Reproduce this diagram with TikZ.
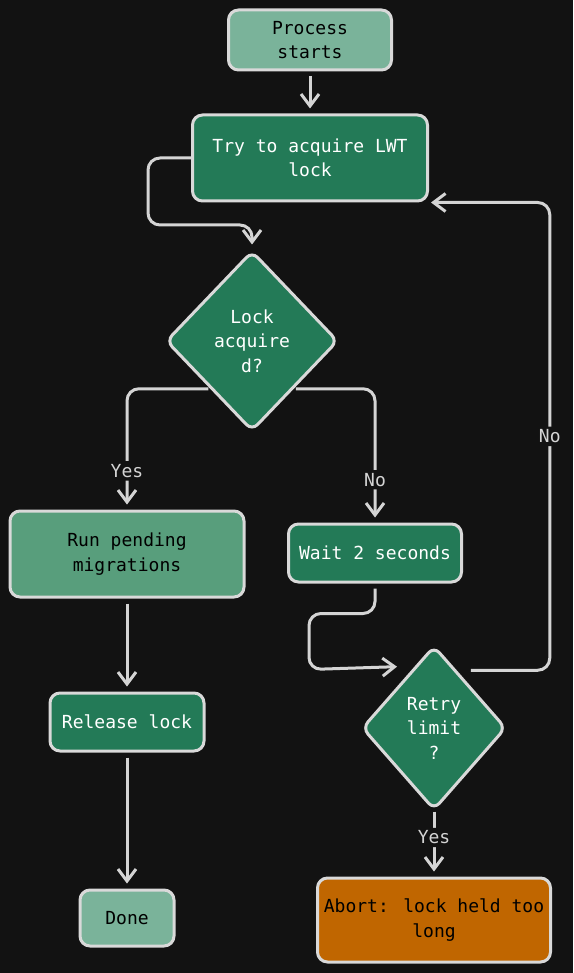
\documentclass[tikz,border=0pt]{standalone}
\usepackage{fontspec}
\setmainfont{DejaVu Sans Mono}
\usetikzlibrary{shapes.geometric,arrows.meta,calc}
\definecolor{bg}{HTML}{121212}
\definecolor{edge}{HTML}{D9D9D9}
\definecolor{wire}{HTML}{D4D4D4}
\definecolor{dgreen}{HTML}{237A57}
\definecolor{lgreen}{HTML}{7AB39A}
\definecolor{mgreen}{HTML}{589E7C}
\definecolor{abortc}{HTML}{C06600}
\begin{document}
\begin{tikzpicture}[x=1pt, y=-1pt, line width=3pt, font=\fontsize{18}{24.5}\selectfont,
  >={Straight Barb[length=12pt,width=18pt]},
  box/.style={draw=edge, rounded corners=10pt, align=center, inner sep=0pt},
  dark/.style={box, fill=dgreen, text=white},
  light/.style={box, fill=lgreen, text=black},
  decide/.style={diamond, draw=edge, fill=dgreen, text=white, align=center, inner sep=0pt, rounded corners=8pt},
  arr/.style={->, draw=wire, rounded corners=12pt, shorten >=5pt},
  lbl/.style={fill=bg, text=wire, inner sep=3pt}]
  \fill[bg] (0,0) rectangle (573,973);
  \useasboundingbox (0,0) rectangle (573,973);
  % nodes
  \node[light, minimum width=163, minimum height=60] (start) at (310,40) {Process\\starts};
  \node[dark, minimum width=235, minimum height=86] (try) at (310,158) {Try to acquire LWT\\lock};
  \node[decide, minimum width=172, minimum height=180] (lock) at (252,341) {Lock\\acquire\\d?};
  \node[light, fill=mgreen, minimum width=234, minimum height=86] (run) at (127,554) {Run pending\\migrations};
  \node[dark, minimum width=173, minimum height=58] (wait) at (375,553) {Wait 2 seconds};
  \node[dark, minimum width=154, minimum height=58] (release) at (127,722) {Release lock};
  \node[light, minimum width=94, minimum height=56] (done) at (127,918) {Done};
  \node[decide, minimum width=144, minimum height=164] (retry) at (434,728) {Retry\\limit\\?};
  \node[light, fill=abortc, minimum width=233, minimum height=84] (abort) at (434,920) {Abort: lock held too\\long};
  % connectors
  \draw[arr, shorten <=5pt] (start) -- (try);
  \draw[arr] (try.west) -- ++(-43,0) -- ++(0,67) -| (lock.north);
  \draw[arr] ([yshift=-2pt]lock.south west) -| node[pos=0.84, lbl]{Yes} (run.north);
  \draw[arr] ([yshift=-2pt]lock.south east) -| node[pos=0.84, lbl]{No} (wait.north);
  \draw[arr, shorten <=5pt] (run) -- (release);
  \draw[arr, shorten <=5pt] (release) -- (done);
  \draw[arr, shorten <=5pt] (wait.south) -- ++(0,30) -| ++(-66,56) -- ($(retry.north)+(-32,22)$);
  \draw[arr, shorten >=2pt] ([yshift=16pt]retry.north east) -- ++(79,0) |- node[pos=0.25, lbl]{No} (try.south east);
  \draw[arr] (retry.south) -- node[pos=0.4, lbl]{Yes} (abort.north);
\end{tikzpicture}
\end{document}
